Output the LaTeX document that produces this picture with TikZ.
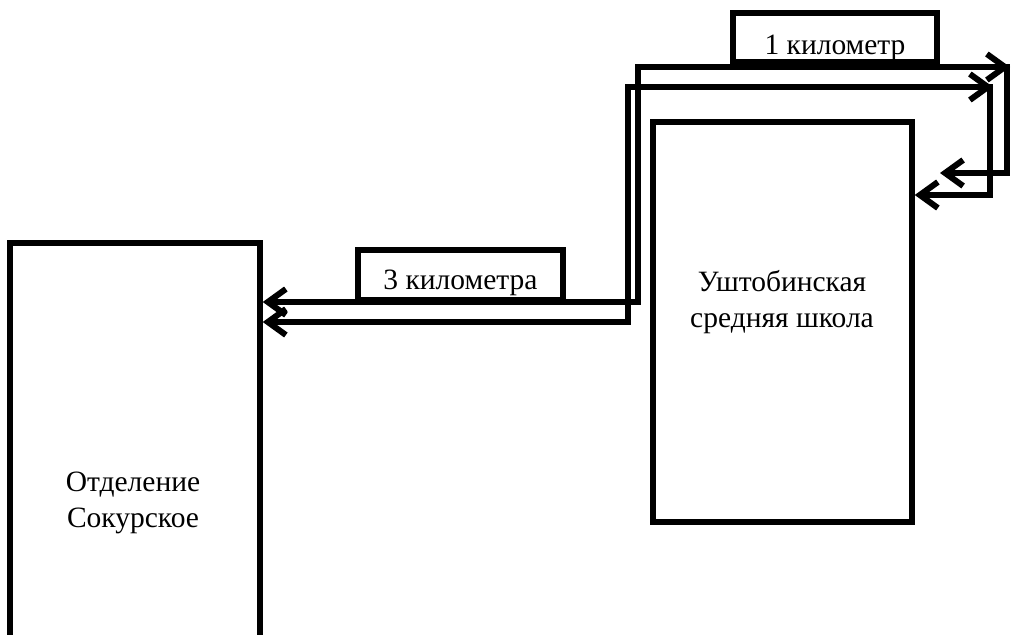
\documentclass[tikz,border=0pt]{standalone}
\usepackage{fontspec}
\setmainfont{Liberation Serif}
\usetikzlibrary{arrows.meta}
\begin{document}
\begin{tikzpicture}[x=1pt,y=-1pt,
  box/.style={draw,line width=5.5pt,rectangle,inner sep=0pt,fill=white},
  txt/.style={font=\fontsize{29.5}{36}\selectfont,align=center,inner sep=0pt},
  road/.style={line width=5.5pt,line cap=rect},
  arr/.style={road,-{Straight Barb[length=18pt,width=26pt,line width=6pt]}}]
\useasboundingbox (0,0) rectangle (1013,635);
% boxes
\node[box,minimum width=250pt,minimum height=534pt] (sok) at (135,510) {};
\node[txt] (soktxt) at (133,503) {Отделение\\Сокурское};
\node[box,minimum width=259pt,minimum height=400pt] (sch) at (782.5,322) {};
\node[txt] (schtxt) at (782,302) {Уштобинская\\средняя школа};
% outer route
\coordinate (o1) at (638,302);
\coordinate (o2) at (638,67);
\coordinate (o3) at (1010,67);
\coordinate (o4) at (1007,173);
\coordinate (o5) at (940,173);
\draw[arr] (o1) -- (o1 -| sok.east);
\draw[road] (o1) -- (o2);
\draw[arr] (o2) -- (o3);
\draw[road] (o3 -| o4) -- (o4);
\draw[arr] (o4) -- (o5);
% inner route
\coordinate (i1) at (628,322);
\coordinate (i2) at (628,87);
\coordinate (i3) at (993,87);
\coordinate (i4) at (990,195);
\draw[arr] (i1) -- (i1 -| sok.east);
\draw[road] (i1) -- (i2);
\draw[arr] (i2) -- (i3);
\draw[road] (i3 -| i4) -- (i4);
\draw[arr] (i4) -- (i4 -| sch.east);
% distance labels
\node[box,minimum width=204pt,minimum height=49pt] (km1) at (835,37.5) {};
\node[txt,anchor=base] (km1txt) at (835,54) {1 километр};
\node[box,minimum width=205pt,minimum height=50pt] (km3) at (460.5,275) {};
\node[txt,anchor=base] (km3txt) at (460.5,289) {3 километра};
\end{tikzpicture}
\end{document}
